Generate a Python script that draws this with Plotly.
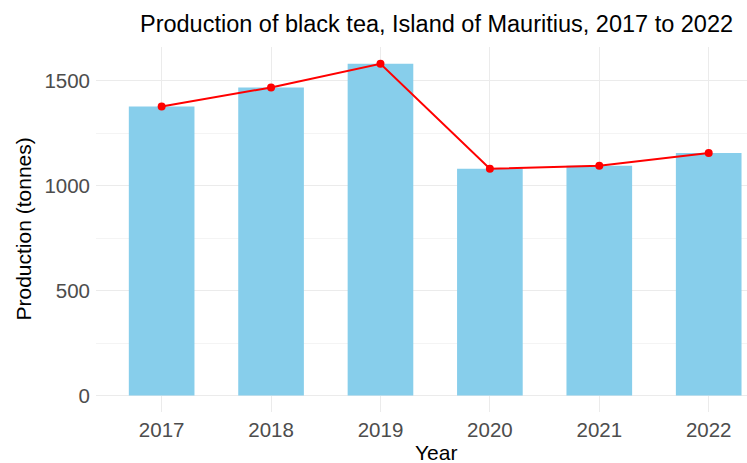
import plotly.graph_objects as go

# Black tea production, Island of Mauritius (tonnes)
years = ["2017", "2018", "2019", "2020", "2021", "2022"]
production = [1378, 1469, 1582, 1081, 1096, 1156]

title_text = "Production of black tea, Island of Mauritius, 2017 to 2022"
x_title = "Year"
y_title = "Production (tonnes)"

W, H = 747, 463
FONT = "Liberation Sans, Arial, sans-serif"

fig = go.Figure()

fig.add_trace(go.Bar(
    x=years, y=production,
    width=0.6,
    marker=dict(color="#87CEEB", line=dict(width=0)),
    hoverinfo="x+y",
))

fig.add_trace(go.Scatter(
    x=years, y=production,
    mode="lines+markers",
    line=dict(color="#FF0000", width=2),
    marker=dict(color="#FF0000", size=8),
    hoverinfo="x+y",
))

fig.update_layout(
    width=W, height=H,
    margin=dict(l=96, r=0, t=47, b=51),
    paper_bgcolor="white",
    plot_bgcolor="white",
    showlegend=False,
    font=dict(family=FONT),
    title=dict(
        text=title_text,
        x=436.5 / W, xref="container", xanchor="center",
        y=1 - 24 / H, yref="container", yanchor="middle",
        font=dict(size=23.5, color="black", family=FONT),
    ),
    xaxis=dict(
        type="category",
        range=[-0.6, 5.35],
        showgrid=True, gridcolor="#EBEBEB", gridwidth=1,
        zeroline=False, showline=False,
        ticks="", tickfont=dict(size=20.5, color="#4D4D4D"),
        ticklabelstandoff=3,
    ),
    yaxis=dict(
        range=[-79, 1662],
        tickvals=[0, 500, 1000, 1500],
        showgrid=True, gridcolor="#EBEBEB", gridwidth=1,
        minor=dict(tickvals=[250, 750, 1250], showgrid=True,
                   gridcolor="#F4F4F4", gridwidth=1),
        zeroline=False, showline=False,
        ticks="", tickfont=dict(size=20.5, color="#4D4D4D"),
        ticklabelstandoff=5,
    ),
    annotations=[
        dict(text=x_title, xref="paper", yref="paper",
             x=(436 - 96) / (W - 96), y=-(452 - 412) / (412 - 47),
             xanchor="center", yanchor="middle", showarrow=False,
             font=dict(size=21, color="black", family=FONT)),
        dict(text=y_title, xref="paper", yref="paper",
             x=-(96 - 23) / (W - 96), y=0.5,
             xanchor="center", yanchor="middle", textangle=-90,
             showarrow=False,
             font=dict(size=21, color="black", family=FONT)),
    ],
)

fig.write_html("out.html")
